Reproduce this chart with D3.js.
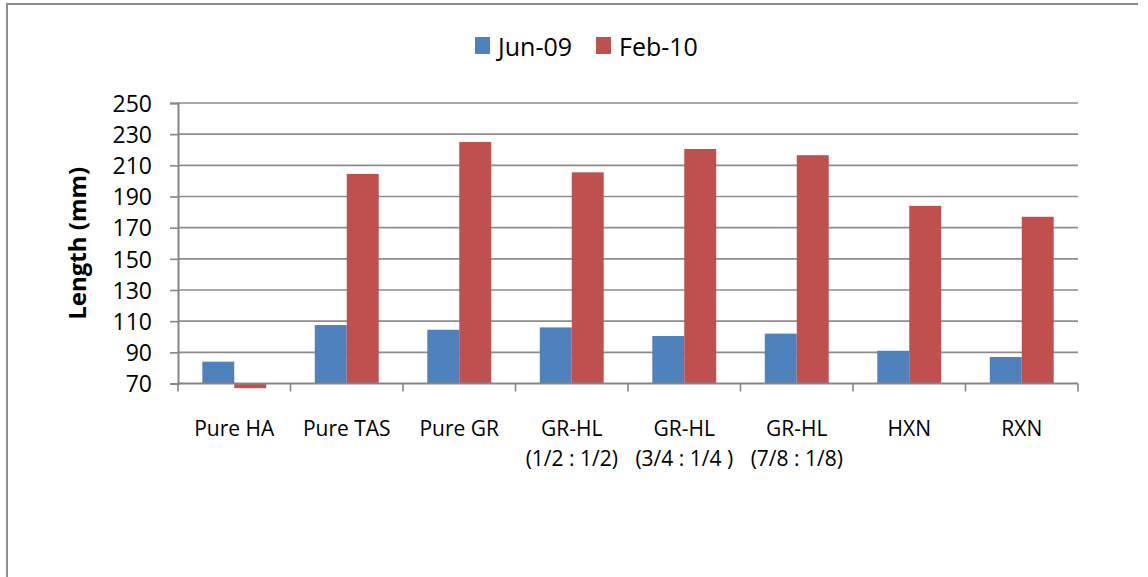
<!DOCTYPE html>
<html>
<head>
<meta charset="utf-8">
<script src="https://cdn.jsdelivr.net/npm/d3@7"></script>
<style>
  body { margin: 0; background: #fff; }
  text { font-family: "Open Sans", sans-serif; fill: #000; }
</style>
</head>
<body>
<div id="chart"></div>
<script>
// categories, two lines each where the label wraps
const categories = ["Pure HA", "Pure TAS", "Pure GR", "GR-HL (1/2 : 1/2)", "GR-HL (3/4 : 1/4 )", "GR-HL (7/8 : 1/8)", "HXN", "RXN"];
const categoryLines = [["Pure HA"], ["Pure TAS"], ["Pure GR"], ["GR-HL", "(1/2 : 1/2)"], ["GR-HL", "(3/4 : 1/4 )"], ["GR-HL", "(7/8 : 1/8)"], ["HXN"], ["RXN"]];
const seriesNames = ["Jun-09", "Feb-10"];
const jun09 = [84, 107.5, 104.5, 106, 100.5, 102, 91, 87];
const feb10 = [67, 204.5, 225, 205.5, 220.5, 216.5, 184, 177];
const yTicks = [70, 90, 110, 130, 150, 170, 190, 210, 230, 250];
const colors = ["#4f81bd", "#c0504d"];

let width = 1148, height = 577;
let plotLeft = 178, plotRight = 1078, plotTop = 103, plotBottom = 383.5;

let svg = d3.select("#chart")
  .append("svg")
  .attr("width", width)
  .attr("height", height);

// outer chart border (top and left visible)
svg.append("path")
  .attr("d", "M7,577 V4 H1138")
  .style("fill", "none")
  .style("stroke", "#8e8e8e")
  .style("stroke-width", 2);

let x = d3.scaleBand().domain(categories).range([plotLeft, plotRight]).padding(0);
let xs = d3.scaleBand().domain(seriesNames).range([0, x.bandwidth()]).paddingInner(0).paddingOuter(0.76);
let y = d3.scaleLinear().domain([70, 250]).range([plotBottom, plotTop]);

// gridlines
svg.selectAll("line.grid")
  .data(yTicks.slice(1))
  .enter().append("line")
  .attr("class", "grid")
  .attr("x1", plotLeft)
  .attr("x2", plotRight)
  .attr("y1", y)
  .attr("y2", y)
  .style("stroke", "#8c8c8c")
  .style("stroke-width", 1.6);

// bars
let data = [];
categories.forEach((c, i) => {
  data.push({cat: c, series: seriesNames[0], value: jun09[i], color: colors[0]});
  data.push({cat: c, series: seriesNames[1], value: feb10[i], color: colors[1]});
});

svg.selectAll("rect.bar")
  .data(data)
  .enter().append("rect")
  .attr("class", "bar")
  .attr("x", d => x(d.cat) + xs(d.series))
  .attr("width", xs.bandwidth())
  .attr("y", d => Math.min(y(d.value), y(70)))
  .attr("height", d => Math.abs(y(70) - y(d.value)))
  .style("fill", d => d.color);

// y axis
let yAxis = d3.axisLeft(y).tickValues(yTicks).tickSize(8).tickPadding(18);
let gy = svg.append("g")
  .attr("transform", "translate(" + plotLeft + ",0)")
  .call(yAxis);
gy.select(".domain").style("stroke", "#868686").style("stroke-width", 2);
gy.selectAll(".tick line").style("stroke", "#868686").style("stroke-width", 1.6);
gy.selectAll(".tick text")
  .style("font-family", "'Open Sans', sans-serif")
  .style("font-size", "23px")
  .style("fill", "#000")
  .attr("dy", "0.36em");

// x axis: ticks between categories
let gx = svg.append("g");
gx.append("line")
  .attr("x1", plotLeft)
  .attr("x2", plotRight)
  .attr("y1", plotBottom)
  .attr("y2", plotBottom)
  .style("stroke", "#868686")
  .style("stroke-width", 2.2);

let boundaries = categories.map(c => x(c)).concat([plotRight]);
gx.selectAll("line.tick")
  .data(boundaries)
  .enter().append("line")
  .attr("class", "tick")
  .attr("x1", d => d)
  .attr("x2", d => d)
  .attr("y1", plotBottom)
  .attr("y2", plotBottom + 8)
  .style("stroke", "#868686")
  .style("stroke-width", 1.6);

let labels = gx.selectAll("text.cat")
  .data(categories)
  .enter().append("text")
  .attr("class", "cat")
  .attr("text-anchor", "middle")
  .style("font-size", "21px");

labels.selectAll("tspan")
  .data((d, i) => categoryLines[i].map(line => ({line: line, cat: d})))
  .enter().append("tspan")
  .attr("x", d => x(d.cat) + x.bandwidth() / 2)
  .attr("y", (d, j) => 436 + j * 30)
  .text(d => d.line);

// y axis title
svg.append("text")
  .attr("transform", "translate(86," + ((plotTop + plotBottom) / 2) + ") rotate(-90)")
  .attr("text-anchor", "middle")
  .style("font-size", "24px")
  .style("font-weight", "bold")
  .text("Length (mm)");

// legend
let legend = svg.selectAll("g.legend")
  .data(seriesNames)
  .enter().append("g")
  .attr("class", "legend")
  .attr("transform", (d, i) => "translate(" + [475, 596][i] + ",37)");

legend.append("rect")
  .attr("width", 15)
  .attr("height", 17)
  .style("fill", (d, i) => colors[i]);

legend.append("text")
  .attr("x", 23)
  .attr("y", 19)
  .style("font-size", "25px")
  .text(d => d);
</script>
</body>
</html>
